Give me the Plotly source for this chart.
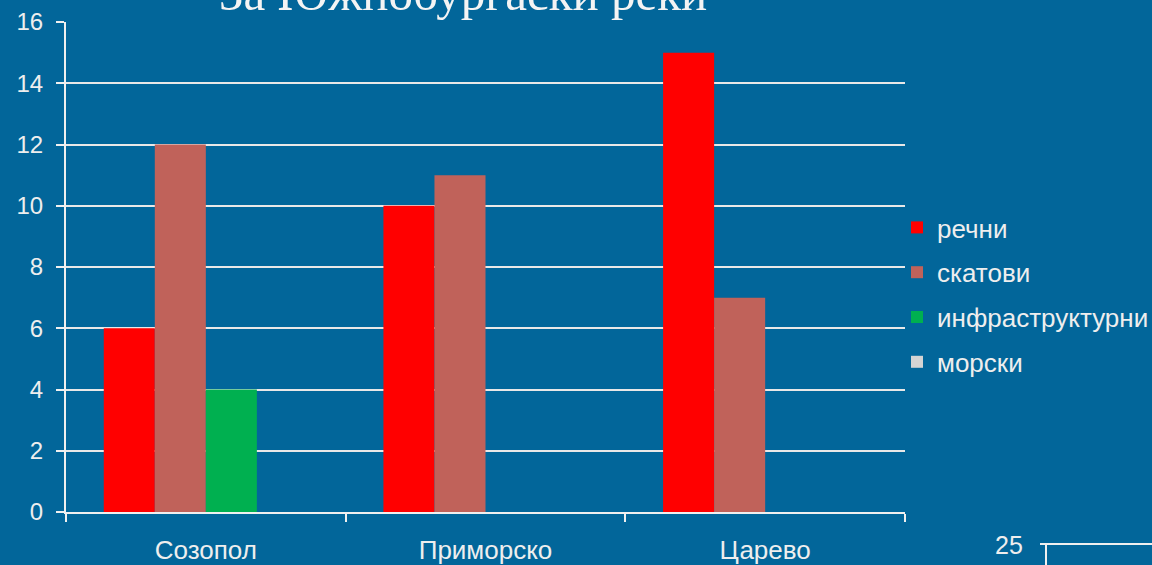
import plotly.graph_objects as go

categories = ["Созопол", "Приморско", "Царево"]
series_names = ["речни", "скатови", "инфраструктурни", "морски"]
rechni = [6, 10, 15]
skatovi = [12, 11, 7]
infra = [4, 0, 0]
morski = [0, 0, 0]
colors = ["#FF0000", "#C0625A", "#00B050", "#D4D4D4"]
title_text = "За Южнобургаски реки"
slide_number = "25"

W, H = 1152, 565
L, R, T, B = 66, 247, 22, 53
pw = W - L - R
ph = H - T - B

def px_x(p):
    return (p - L) / pw

def px_y(p):
    return (H - B - p) / ph

bg = "#02669A"
txt = "#EEEEEE"

fig = go.Figure()
for i, (name, vals) in enumerate(zip(series_names, [rechni, skatovi, infra, morski])):
    fig.add_trace(go.Bar(x=categories, y=vals, name=name, marker=dict(color=colors[i], line=dict(width=0)),
                         legendgroup=name))

fig.update_layout(
    width=W, height=H,
    margin=dict(l=L, r=R, t=T, b=B, autoexpand=False),
    paper_bgcolor=bg, plot_bgcolor=bg,
    barmode="group", bargap=0.27, bargroupgap=0,
    font=dict(family="Liberation Sans, Arial", color=txt, size=24),
    showlegend=True,
    legend=dict(x=px_x(897), xanchor="left", y=px_y(204), yanchor="top",
                font=dict(size=26, color=txt), traceorder="grouped",
                tracegroupgap=8, bgcolor="rgba(0,0,0,0)", itemwidth=30),
)
fig.update_yaxes(range=[0, 16], dtick=2, showgrid=True, gridcolor="#E8E8E8", gridwidth=2,
                 showline=True, linecolor="#F0F0F0", linewidth=2, ticks="outside", ticklen=8,
                 tickcolor="#F0F0F0", tickwidth=2, ticklabelstandoff=8, zeroline=False,
                 automargin=False, tickfont=dict(size=24, color=txt))
fig.update_xaxes(showline=True, linecolor="#F0F0F0", linewidth=2, ticks="outside", ticklen=8,
                 tickcolor="#F0F0F0", tickwidth=2, tickson="boundaries", ticklabelstandoff=14,
                 automargin=False, tickfont=dict(size=26, color=txt))

fig.add_annotation(text=title_text, xref="paper", yref="paper", x=px_x(463), y=px_y(12),
                   xanchor="center", yanchor="bottom", showarrow=False, yshift=-11,
                   font=dict(family="Liberation Serif, Times New Roman", size=49, color="#F4F4F4"))
fig.add_annotation(text=slide_number, xref="paper", yref="paper", x=px_x(1009), y=px_y(545),
                   xanchor="center", yanchor="middle", showarrow=False,
                   font=dict(size=25, color=txt))
fig.add_shape(type="line", xref="paper", yref="paper", x0=px_x(1040), x1=px_x(1152),
              y0=px_y(544), y1=px_y(544), line=dict(color="#F0F0F0", width=2))
fig.add_shape(type="line", xref="paper", yref="paper", x0=px_x(1046), x1=px_x(1046),
              y0=px_y(544), y1=px_y(566), line=dict(color="#F0F0F0", width=2))

fig.write_html("out.html", config={"displayModeBar": False},
               post_script="document.body.style.margin='0';document.body.style.overflow='hidden';")
